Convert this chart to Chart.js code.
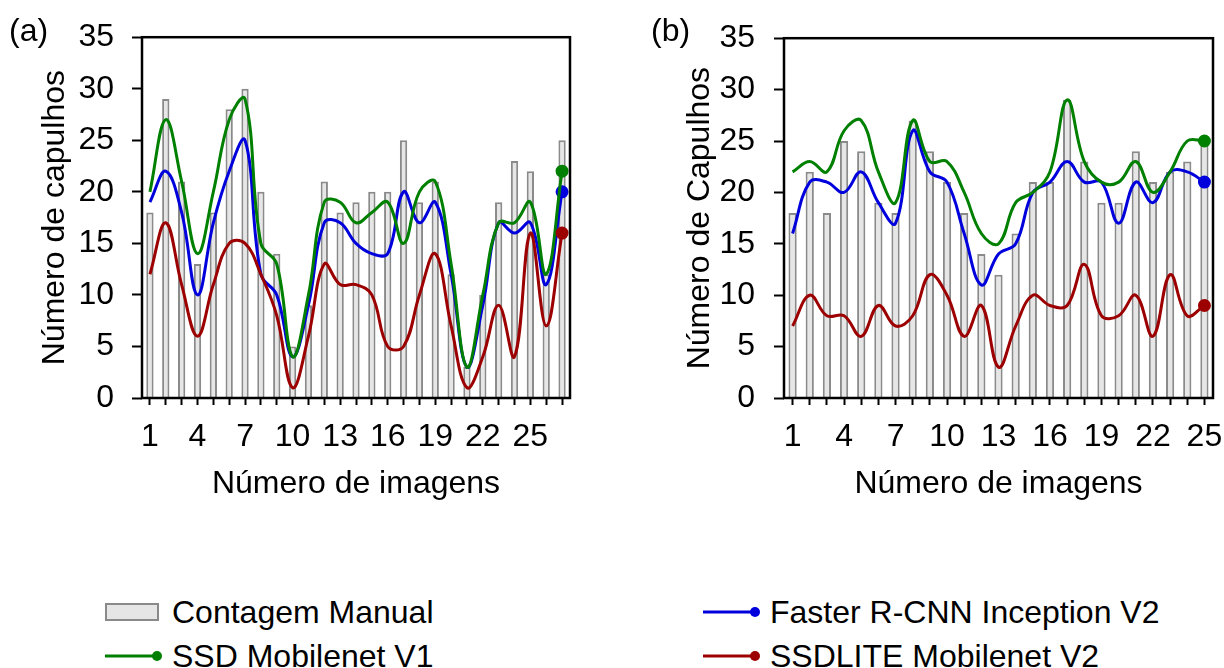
<!DOCTYPE html>
<html>
<head>
<meta charset="utf-8">
<script src="https://cdn.jsdelivr.net/npm/chart.js@4.4.1/dist/chart.umd.min.js"></script>
<style>
  body { margin: 0; background: #fff; width: 1224px; height: 668px; overflow: hidden; position: relative;
         font-family: "Liberation Sans", Arial, sans-serif; color: #000; }
  .box { position: absolute; top: 0; height: 520px; width: 612px; }
  .tag { position: absolute; font-size: 32px; line-height: 32px; }
  .leg { position: absolute; font-size: 32px; line-height: 32px; white-space: nowrap; }
  .leg .sym { position: absolute; top: 0; }
</style>
</head>
<body>
<div class="box" style="left:0"><canvas id="chartA"></canvas></div>
<div class="box" style="left:612px"><canvas id="chartB"></canvas></div>
<div class="tag" style="left:9px; top:14px">(a)</div>
<div class="tag" style="left:651px; top:14px">(b)</div>
<div id="legend"></div>

<script>
// ---------- DATA ----------
const labelsA = ["1","2","3","4","5","6","7","8","9","10","11","12","13","14","15","16","17","18","19","20","21","22","23","24","25","26","27"];
const manualA = [18, 29, 21, 13, 18, 28, 30, 20, 14, 5, 9, 21, 18, 19, 20, 20, 25, 19, 21, 12, 3, 10, 19, 23, 22, 12, 25];
const fasterA = [19, 22, 18, 10, 17, 22, 25, 12, 10, 4, 9, 17, 17, 15, 14, 14, 20, 17, 19, 12, 3, 9, 17, 16, 17, 11, 20];
const ssdA    = [20, 27, 21, 14, 20, 27, 29, 15, 13, 4, 10, 19, 19, 17, 18, 19, 15, 20, 21, 13, 3, 10, 17, 17, 19, 12, 22];
const liteA   = [12, 17, 11, 6, 11, 15, 15, 12, 8, 1, 6, 13, 11, 11, 10, 5, 5, 10, 14, 7, 1, 4, 9, 4, 16, 7, 16];

const labelsB = ["1","2","3","4","5","6","7","8","9","10","11","12","13","14","15","16","17","18","19","20","21","22","23","24","25"];
const manualB = [18, 22, 18, 25, 24, 19, 18, 27, 24, 21, 18, 14, 12, 16, 21, 21, 29, 23, 19, 19, 24, 21, 22, 23, 25];
const fasterB = [16, 21, 21, 20, 22, 19, 17, 26, 22, 21, 16, 11, 14, 15, 20, 21, 23, 21, 21, 17, 21, 19, 22, 22, 21];
const ssdB    = [22, 23, 22, 26, 27, 22, 19, 27, 23, 23, 20, 16, 15, 19, 20, 22, 29, 23, 21, 21, 23, 20, 22, 25, 25];
const liteB   = [7, 10, 8, 8, 6, 9, 7, 8, 12, 10, 6, 9, 3, 7, 10, 9, 9, 13, 8, 8, 10, 6, 12, 8, 9];

const yTicks = [0, 5, 10, 15, 20, 25, 30, 35];

const seriesNames = ["Contagem Manual", "Faster R-CNN Inception V2", "SSD Mobilenet V1", "SSDLITE Mobilenet V2"];

// ---------- STYLE ----------
const COLORS = {
  barFill: "#e6e6e6",
  barBorder: "#8a8a8a",
  faster: "#0000dd",
  ssd: "#008000",
  lite: "#9c0000",
};
const FONT = { family: "'Liberation Sans', Arial, sans-serif", size: 32 };

// black frame round the plot area
const framePlugin = {
  id: "frame",
  afterDatasetsDraw(chart) {
    const { ctx, chartArea: a } = chart;
    ctx.save();
    ctx.strokeStyle = "#000";
    ctx.lineWidth = 2.5;
    ctx.strokeRect(a.left, a.top, a.right - a.left, a.bottom - a.top);
    ctx.restore();
  },
};

function lineSet(label, data, color, order) {
  return {
    type: "line",
    label,
    data,
    borderColor: color,
    backgroundColor: color,
    borderWidth: 3,
    tension: 0.4,
    // only the last point gets a marker
    pointRadius: (c) => (c.dataIndex === data.length - 1 ? 5 : 0),
    pointHoverRadius: 0,
    order,
  };
}

function buildChart(canvasId, labels, manual, faster, ssd, lite, cfg) {
  return new Chart(document.getElementById(canvasId), {
    type: "bar",
    data: {
      labels,
      datasets: [
        {
          label: seriesNames[0],
          data: manual,
          backgroundColor: COLORS.barFill,
          borderColor: COLORS.barBorder,
          borderWidth: 2,
          barPercentage: cfg.barPct,
          categoryPercentage: 1,
          order: 4,
        },
        lineSet(seriesNames[1], faster, COLORS.faster, 3),
        lineSet(seriesNames[2], ssd, COLORS.ssd, 2),
        lineSet(seriesNames[3], lite, COLORS.lite, 1),
      ],
    },
    options: {
      responsive: true,
      maintainAspectRatio: false,
      animation: false,
      events: [],
      layout: { padding: { top: 34, right: cfg.padRight, bottom: 0, left: 0 } },
      plugins: { legend: { display: false }, tooltip: { enabled: false } },
      scales: {
        x: {
          offset: true,
          grid: { display: true, offset: false, drawOnChartArea: false, drawTicks: true,
                  tickLength: 7, tickWidth: 2, tickColor: "#000" },
          border: { display: false },
          ticks: {
            autoSkip: false,
            maxRotation: 0,
            padding: 13,
            color: "#000",
            font: FONT,
            callback: (v, i) => (i % 3 === 0 ? labels[i] : ""),
          },
          title: { display: true, text: "Número de imagens", color: "#000", font: FONT,
                   padding: { top: 0, bottom: 17 } },
          afterFit: (s) => {
            s.height = 122;
            // let the last label hang over the frame like the original
            s.paddingLeft = 0;
            s.paddingRight = 0;
          },
        },
        y: {
          min: 0,
          max: 35,
          afterBuildTicks: (s) => { s.ticks = yTicks.map((v) => ({ value: v })); },
          grid: { display: true, drawOnChartArea: false, drawTicks: true,
                  tickLength: 10, tickWidth: 2, tickColor: "#000" },
          border: { display: false },
          ticks: { padding: cfg.yTickPad, color: "#000", font: FONT },
          title: { display: true, text: cfg.yTitle, color: "#000", font: FONT,
                   padding: { top: cfg.yTitlePad, bottom: 0 } },
          afterFit: (s) => { s.width = cfg.yWidth; },
        },
      },
    },
    plugins: [framePlugin],
  });
}

buildChart("chartA", labelsA, manualA, fasterA, ssdA, liteA, {
  yWidth: 142, padRight: 42, yTickPad: 18, yTitlePad: 36, yTitle: "Número de capulhos", barPct: 0.46,
});
buildChart("chartB", labelsB, manualB, fasterB, ssdB, liteB, {
  yWidth: 172, padRight: 11, yTickPad: 19, yTitlePad: 69, yTitle: "Número de Capulhos", barPct: 0.48,
});

// ---------- LEGEND ----------
const legendItems = [
  { name: seriesNames[0], kind: "bar", color: COLORS.barFill, x: 105, y: 596 },
  { name: seriesNames[1], kind: "line", color: COLORS.faster, x: 703, y: 596 },
  { name: seriesNames[2], kind: "line", color: COLORS.ssd, x: 105, y: 640 },
  { name: seriesNames[3], kind: "line", color: COLORS.lite, x: 703, y: 640 },
];
const legend = document.getElementById("legend");
legendItems.forEach((item) => {
  const div = document.createElement("div");
  div.className = "leg";
  div.style.left = item.x + "px";
  div.style.top = item.y + "px";
  let sym;
  if (item.kind === "bar") {
    sym = `<svg class="sym" width="56" height="32"><rect x="1" y="8" width="52" height="16" fill="${COLORS.barFill}" stroke="${COLORS.barBorder}" stroke-width="2"/></svg>`;
  } else {
    sym = `<svg class="sym" width="62" height="32"><line x1="0" y1="16" x2="52" y2="16" stroke="${item.color}" stroke-width="3"/><circle cx="52" cy="16" r="5" fill="${item.color}"/></svg>`;
  }
  div.innerHTML = sym + `<span style="margin-left:67px">${item.name}</span>`;
  legend.appendChild(div);
});
</script>
</body>
</html>
